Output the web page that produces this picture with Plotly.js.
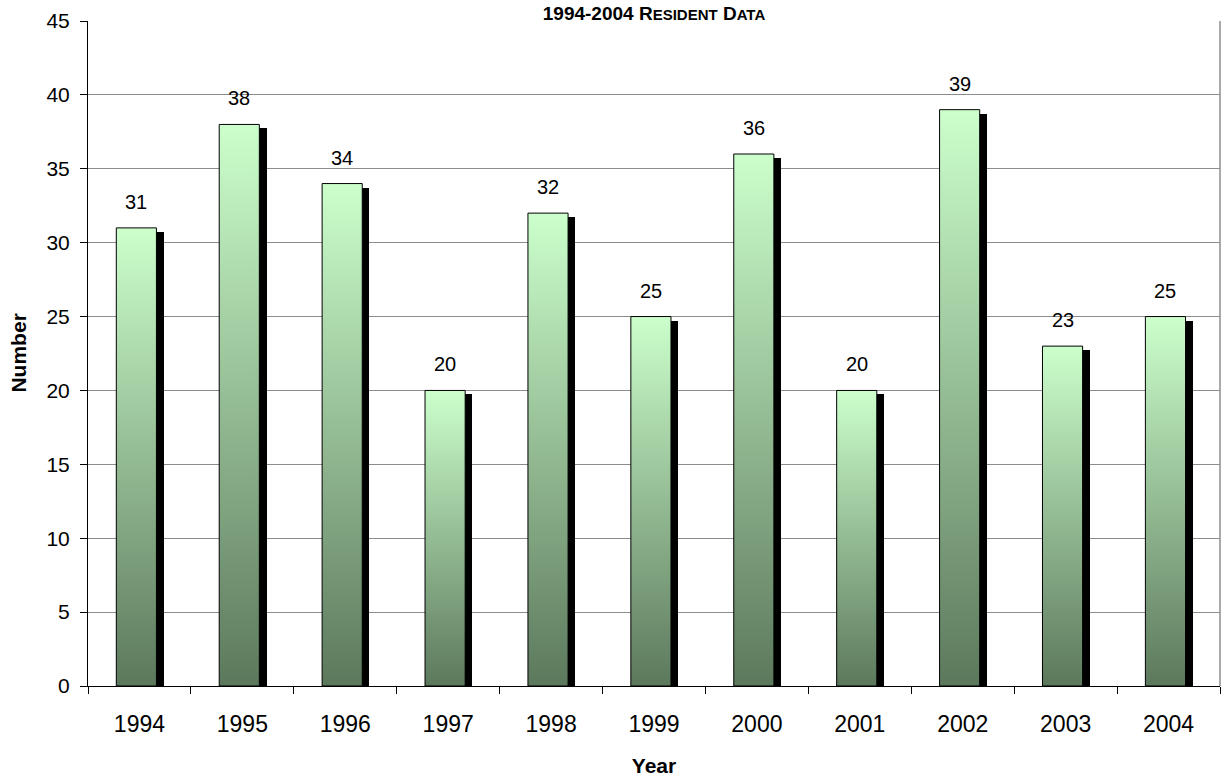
<!DOCTYPE html>
<html>
<head>
<meta charset="utf-8">
<script src="https://cdn.plot.ly/plotly-3.0.1.min.js"></script>
<style>html,body{margin:0;padding:0;background:#fff;}#chart{width:1222px;height:781px;}</style>
</head>
<body>
<div id="chart"></div>
<script>
// Data
const years = ['1994','1995','1996','1997','1998','1999','2000','2001','2002','2003','2004'];
const residents = [31, 38, 34, 20, 32, 25, 36, 20, 39, 23, 25];
const yTicks = [0, 5, 10, 15, 20, 25, 30, 35, 40, 45];

// Style constants
const BAR_W = 0.39;
const BAR_SHIFT = -0.03;
const SHADOW_DX = 0.07;
const SHADOW_DROP = 0.27;
const TOP_COLOR = '#ccffcc';
const BOTTOM_COLOR = '#5c785c';
const FONT = 'Arial, "Liberation Sans", sans-serif';

const traces = [];
// shadows (category axis)
traces.push({
  type: 'bar', x: years, y: residents.map(v => v - SHADOW_DROP),
  width: BAR_W, offset: -BAR_W / 2 + BAR_SHIFT + SHADOW_DX,
  marker: {color: '#000', line: {width: 0}},
  xaxis: 'x', yaxis: 'y', hoverinfo: 'skip', showlegend: false
});
// gradient bars as filled polygons on overlaying linear axis
residents.forEach((v, i) => {
  const c = i + BAR_SHIFT;
  const l = c - BAR_W / 2, r = c + BAR_W / 2;
  traces.push({
    type: 'scatter', mode: 'lines',
    x: [l, r, r, l, l], y: [0, 0, v, v, 0],
    fill: 'toself',
    fillgradient: {type: 'vertical', colorscale: [[0, BOTTOM_COLOR], [1, TOP_COLOR]]},
    line: {color: '#000', width: 1},
    xaxis: 'x2', yaxis: 'y', hoverinfo: 'skip', showlegend: false
  });
});

const annotations = residents.map((v, i) => ({
  x: i + BAR_SHIFT, y: v, xref: 'x2', yref: 'y', text: String(v), showarrow: false,
  yanchor: 'middle', yshift: 26,
  font: {family: FONT, size: 20, color: '#000'}
}));
// y axis title placed as a rotated annotation
annotations.push({
  x: -0.0618, y: 0.5, xref: 'paper', yref: 'paper', text: '<b>Number</b>', showarrow: false,
  textangle: -90, xanchor: 'center', yanchor: 'middle',
  font: {family: FONT, size: 21, color: '#000'}
});

const layout = {
  width: 1222, height: 781,
  margin: {l: 88, r: 2, t: 21, b: 95},
  paper_bgcolor: '#fff', plot_bgcolor: '#fff',
  font: {family: FONT, color: '#000'},
  title: {
    text: '<b>1994-2004 R<span style="font-size:15px">ESIDENT</span> D<span style="font-size:15px">ATA</span></b>',
    font: {family: FONT, size: 19, color: '#000'},
    x: 0.5, xref: 'paper', y: 0.983, yref: 'container', yanchor: 'middle'
  },
  xaxis: {
    type: 'category', categoryorder: 'array', categoryarray: years,
    range: [-0.5, 10.5], tickson: 'boundaries', ticks: 'outside', ticklen: 7, tickcolor: '#000',
    showline: true, linecolor: '#000', linewidth: 1, showgrid: false, zeroline: false,
    tickfont: {family: FONT, size: 23, color: '#000'}, ticklabelstandoff: 17,
    title: {text: '<b>Year</b>', font: {family: FONT, size: 21, color: '#000'}, standoff: 22},
    fixedrange: true
  },
  xaxis2: {
    type: 'linear', overlaying: 'x', range: [-0.5, 10.5], visible: false, fixedrange: true
  },
  yaxis: {
    range: [0, 45], tickvals: yTicks, ticktext: yTicks.map(String),
    ticks: 'outside', ticklen: 7, tickcolor: '#000',
    showline: true, linecolor: '#000', linewidth: 1,
    showgrid: true, gridcolor: '#8c8c8c', gridwidth: 1, zeroline: false,
    tickfont: {family: FONT, size: 21, color: '#000'}, ticklabelstandoff: 6,
    fixedrange: true
  },
  shapes: [{type: 'line', xref: 'paper', yref: 'paper', x0: 1, x1: 1, y0: 0, y1: 1,
            line: {color: '#8c8c8c', width: 1.5}}],
  annotations: annotations,
  bargap: 0
};

Plotly.newPlot('chart', traces, layout, {displayModeBar: false, staticPlot: true});
</script>
</body>
</html>
